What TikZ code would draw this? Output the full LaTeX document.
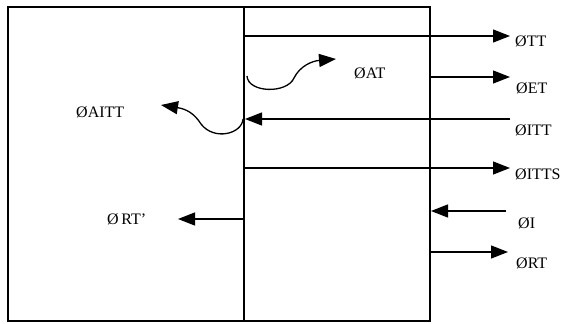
\documentclass[tikz,border=0pt]{standalone}
\usepackage{fontspec}
\setmainfont{Liberation Serif}
\usetikzlibrary{arrows.meta}
\begin{document}
\begin{tikzpicture}[x=1pt,y=-1pt,
  frame/.style={line width=2.4pt},
  sig/.style={line width=1.3pt,-{Triangle[length=17pt,width=13pt]}},
  lbl/.style={anchor=base west,inner sep=0pt,font=\fontsize{16}{18}\selectfont}]
\useasboundingbox (0,0) rectangle (563,324);
% frame
\coordinate (tl) at (8,7);
\coordinate (br) at (430,321);
\coordinate (mt) at (244,7);
\coordinate (mb) at (244,321);
\draw[frame] (tl) rectangle (br);
\draw[frame] (mt) -- (mb);
% label nodes
\node[lbl] (tt) at (515,46) {ØTT};
\node[lbl] (at) at (354,78) {ØAT};
\node[lbl] (et) at (516,93) {ØET};
\node[lbl] (aitt) at (76,117) {ØAITT};
\node[lbl] (itt) at (515,135) {ØITT};
\node[lbl] (itts) at (515,179) {ØITTS};
\node[lbl] (rtp) at (107,224) {Ø\,RT'};
\node[lbl] (i) at (518,228) {ØI};
\node[lbl] (rt) at (516,268) {ØRT};
% coordinates
\coordinate (tt0) at (245,36);  \coordinate (tt1) at (510,36);
\coordinate (et0) at (431,77);  \coordinate (et1) at (510,77);
\coordinate (itt0) at (510,119); \coordinate (itt1) at (245,119);
\coordinate (itts0) at (245,168); \coordinate (itts1) at (510,168);
\coordinate (i0) at (506,211); \coordinate (i1) at (431,211);
\coordinate (rt0) at (431,252); \coordinate (rt1) at (508,252);
\coordinate (rtp0) at (244,219); \coordinate (rtp1) at (178,219);
\coordinate (at0) at (247,76); \coordinate (at1) at (336,59);
\coordinate (ai0) at (243,119); \coordinate (ai1) at (161,105);
% arrows
\draw[sig] (tt0) -- (tt1);
\draw[sig] (et0) -- (et1);
\draw[sig] (itt0) -- (itt1);
\draw[sig] (itts0) -- (itts1);
\draw[sig] (i0) -- (i1);
\draw[sig] (rt0) -- (rt1);
\draw[sig] (rtp0) -- (rtp1);
\draw[sig] (at0) .. controls (248,93) and (287,94) .. (294,78) .. controls (300,66) and (312,61) .. (at1);
\draw[sig] (ai0) .. controls (242,134) and (214,141) .. (201,124) .. controls (194,113) and (186,109) .. (ai1);
\end{tikzpicture}
\end{document}
